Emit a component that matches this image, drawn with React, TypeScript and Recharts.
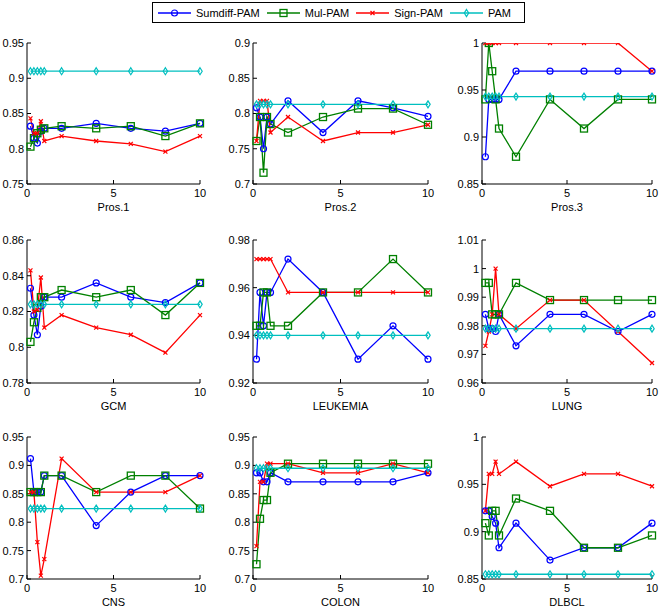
import { LineChart, Line, XAxis, YAxis } from 'recharts';

const xValues = [0.2, 0.4, 0.6, 0.8, 1, 2, 4, 6, 8, 10];
const xTicks = [0, 5, 10];

const datasets = ['Pros.1', 'Pros.2', 'Pros.3', 'GCM', 'LEUKEMIA', 'LUNG', 'CNS', 'COLON', 'DLBCL'];

const yTicks = [
  [0.75, 0.8, 0.85, 0.9, 0.95],
  [0.7, 0.75, 0.8, 0.85, 0.9],
  [0.85, 0.9, 0.95, 1],
  [0.78, 0.8, 0.82, 0.84, 0.86],
  [0.92, 0.94, 0.96, 0.98],
  [0.96, 0.97, 0.98, 0.99, 1, 1.01],
  [0.7, 0.75, 0.8, 0.85, 0.9, 0.95],
  [0.7, 0.75, 0.8, 0.85, 0.9, 0.95],
  [0.85, 0.9, 0.95, 1],
];

// one row per dataset, one value per x
const sumdiffPam = [
  [0.832, 0.815, 0.808, 0.825, 0.829, 0.829, 0.836, 0.829, 0.825, 0.836],
  [0.808, 0.795, 0.75, 0.795, 0.785, 0.818, 0.773, 0.818, 0.808, 0.796],
  [0.879, 0.94, 0.94, 0.94, 0.94, 0.97, 0.97, 0.97, 0.97, 0.97],
  [0.833, 0.818, 0.807, 0.823, 0.828, 0.828, 0.836, 0.828, 0.825, 0.836],
  [0.93, 0.958, 0.944, 0.958, 0.958, 0.972, 0.958, 0.93, 0.944, 0.93],
  [0.984, 0.979, 0.979, 0.978, 0.984, 0.973, 0.984, 0.984, 0.978, 0.984],
  [0.912, 0.853, 0.853, 0.853, 0.882, 0.882, 0.794, 0.853, 0.882, 0.882],
  [0.887, 0.887, 0.871, 0.871, 0.887, 0.871, 0.871, 0.871, 0.871, 0.887],
  [0.922, 0.922, 0.916, 0.909, 0.883, 0.909, 0.87, 0.883, 0.883, 0.909],
];

const mulPam = [
  [0.803, 0.815, 0.822, 0.827, 0.829, 0.832, 0.829, 0.832, 0.818, 0.836],
  [0.761, 0.795, 0.716, 0.795, 0.785, 0.773, 0.795, 0.807, 0.807, 0.784],
  [0.94, 1, 0.97, 0.94, 0.909, 0.879, 0.94, 0.909, 0.94, 0.94],
  [0.803, 0.814, 0.822, 0.828, 0.828, 0.832, 0.828, 0.832, 0.818, 0.836],
  [0.944, 0.944, 0.958, 0.958, 0.944, 0.944, 0.958, 0.958, 0.972, 0.958],
  [0.995, 0.995, 0.984, 0.984, 0.984, 0.995, 0.989, 0.989, 0.989, 0.989],
  [0.853, 0.853, 0.853, 0.853, 0.882, 0.882, 0.853, 0.882, 0.882, 0.824],
  [0.726, 0.806, 0.839, 0.839, 0.887, 0.903, 0.903, 0.903, 0.903, 0.903],
  [0.909, 0.896, 0.922, 0.922, 0.896, 0.935, 0.922, 0.883, 0.883, 0.896],
];

const signPam = [
  [0.843, 0.822, 0.822, 0.839, 0.811, 0.818, 0.811, 0.807, 0.796, 0.818],
  [0.761, 0.818, 0.818, 0.818, 0.773, 0.795, 0.761, 0.773, 0.773, 0.784],
  [1, 1, 1, 1, 1, 1, 1, 1, 1, 0.97],
  [0.843, 0.82, 0.821, 0.839, 0.811, 0.818, 0.811, 0.807, 0.797, 0.818],
  [0.972, 0.972, 0.972, 0.972, 0.972, 0.958, 0.958, 0.958, 0.958, 0.958],
  [0.973, 0.978, 0.984, 1, 0.984, 0.979, 0.989, 0.989, 0.978, 0.967],
  [0.853, 0.853, 0.765, 0.706, 0.735, 0.912, 0.853, 0.853, 0.853, 0.882],
  [0.758, 0.871, 0.871, 0.903, 0.903, 0.903, 0.887, 0.887, 0.903, 0.887],
  [0.922, 0.961, 0.961, 0.974, 0.961, 0.974, 0.948, 0.961, 0.961, 0.948],
];

const pam = [
  [0.91, 0.91, 0.91, 0.91, 0.91, 0.91, 0.91, 0.91, 0.91, 0.91],
  [0.813, 0.813, 0.813, 0.813, 0.813, 0.813, 0.813, 0.813, 0.813, 0.813],
  [0.943, 0.943, 0.943, 0.943, 0.943, 0.943, 0.943, 0.943, 0.943, 0.943],
  [0.824, 0.824, 0.824, 0.824, 0.824, 0.824, 0.824, 0.824, 0.824, 0.824],
  [0.94, 0.94, 0.94, 0.94, 0.94, 0.94, 0.94, 0.94, 0.94, 0.94],
  [0.979, 0.979, 0.979, 0.979, 0.979, 0.979, 0.979, 0.979, 0.979, 0.979],
  [0.824, 0.824, 0.824, 0.824, 0.824, 0.824, 0.824, 0.824, 0.824, 0.824],
  [0.895, 0.895, 0.895, 0.895, 0.895, 0.895, 0.895, 0.895, 0.895, 0.895],
  [0.855, 0.855, 0.855, 0.855, 0.855, 0.855, 0.855, 0.855, 0.855, 0.855],
];

const SERIES = [
  { key: 'sumdiff', name: 'Sumdiff-PAM', color: '#0000ff', marker: 'circle', values: sumdiffPam },
  { key: 'mul', name: 'Mul-PAM', color: '#008000', marker: 'square', values: mulPam },
  { key: 'sign', name: 'Sign-PAM', color: '#ff0000', marker: 'x', values: signPam },
  { key: 'pam', name: 'PAM', color: '#00bfbf', marker: 'diamond', values: pam },
];

// plot-area edges in page pixels
const COLS = [
  { left: 27, right: 200 },
  { left: 253, right: 428 },
  { left: 482, right: 652 },
];
const ROWS = [
  { top: 43, bottom: 184 },
  { top: 240, bottom: 383 },
  { top: 437, bottom: 579 },
];

const FONT = '"Liberation Sans", Arial, sans-serif';
const Y_W = 32;
const X_H = 32;
const PAD = 8;

function Marker({ kind, cx, cy, color }: { kind: string; cx: number; cy: number; color: string }) {
  if (kind === 'circle') {
    return <circle cx={cx} cy={cy} r={3} fill="none" stroke={color} strokeWidth={1.2} />;
  }
  if (kind === 'square') {
    return <rect x={cx - 3.5} y={cy - 3.5} width={7} height={7} fill="none" stroke={color} strokeWidth={1.3} />;
  }
  if (kind === 'x') {
    return (
      <path
        d={`M${cx - 2},${cy - 2}L${cx + 2},${cy + 2}M${cx - 2},${cy + 2}L${cx + 2},${cy - 2}`}
        stroke={color}
        strokeWidth={1.2}
      />
    );
  }
  return (
    <path
      d={`M${cx},${cy - 3.5}L${cx + 2.2},${cy}L${cx},${cy + 3.5}L${cx - 2.2},${cy}Z`}
      fill="none"
      stroke={color}
      strokeWidth={1.2}
    />
  );
}

const makeDot = (kind: string, color: string) => (props: any) => {
  const { cx, cy, index } = props;
  if (cx == null || cy == null) return <g key={index} />;
  return (
    <g key={index}>
      <Marker kind={kind} cx={cx} cy={cy} color={color} />
    </g>
  );
};

function Panel({ i }: { i: number }) {
  const col = COLS[i % 3];
  const row = ROWS[Math.floor(i / 3)];
  const ticks = yTicks[i];
  const domain = [ticks[0], ticks[ticks.length - 1]];
  const data = xValues.map((x, j) => {
    const d: Record<string, number> = { x };
    SERIES.forEach((s) => {
      d[s.key] = s.values[i][j];
    });
    return d;
  });
  const width = col.right - col.left + Y_W + PAD;
  const height = row.bottom - row.top + PAD + X_H;
  const tickStyle = { fill: '#000', fontSize: 11, fontFamily: FONT };

  return (
    <div style={{ position: 'absolute', left: col.left - Y_W, top: row.top - PAD }}>
      <LineChart width={width} height={height} data={data} margin={{ top: PAD, right: PAD, left: 0, bottom: 0 }}>
        <XAxis
          dataKey="x"
          type="number"
          domain={[0, 10]}
          ticks={xTicks}
          interval={0}
          height={X_H}
          tick={tickStyle}
          tickSize={-4}
          tickMargin={9}
          stroke="#000"
          label={{ value: datasets[i], position: 'insideBottom', offset: 5, fill: '#000', fontSize: 11, fontFamily: FONT }}
        />
        <XAxis
          xAxisId="top"
          orientation="top"
          type="number"
          domain={[0, 10]}
          ticks={xTicks}
          interval={0}
          height={0}
          tick={false}
          tickSize={-4}
          stroke="#000"
        />
        <YAxis
          type="number"
          domain={domain}
          ticks={ticks}
          interval={0}
          allowDataOverflow
          width={Y_W}
          tick={tickStyle}
          tickSize={-4}
          tickMargin={7}
          stroke="#000"
        />
        <YAxis
          yAxisId="right"
          orientation="right"
          type="number"
          domain={domain}
          ticks={ticks}
          interval={0}
          allowDataOverflow
          width={0}
          tick={false}
          tickSize={-4}
          stroke="#000"
        />
        {SERIES.map((s) => (
          <Line
            key={s.key}
            dataKey={s.key}
            type="linear"
            stroke={s.color}
            strokeWidth={1.3}
            dot={makeDot(s.marker, s.color)}
            activeDot={false}
            isAnimationActive={false}
          />
        ))}
      </LineChart>
    </div>
  );
}

function Legend() {
  return (
    <div
      style={{
        position: 'absolute',
        left: 152,
        top: 2,
        width: 366,
        height: 19,
        border: '1px solid #000',
        background: '#fff',
        display: 'flex',
        alignItems: 'center',
        paddingLeft: 5,
        boxSizing: 'content-box',
        fontFamily: FONT,
        fontSize: 11,
        color: '#000',
      }}
    >
      {SERIES.map((s) => (
        <div key={s.key} style={{ display: 'flex', alignItems: 'center', marginRight: 7 }}>
          <svg width={33} height={10} style={{ marginRight: 5 }}>
            <line x1={0} y1={5} x2={33} y2={5} stroke={s.color} strokeWidth={1.3} />
            <Marker kind={s.marker} cx={16.5} cy={5} color={s.color} />
          </svg>
          <span style={{ whiteSpace: 'nowrap' }}>{s.name}</span>
        </div>
      ))}
    </div>
  );
}

export default function App() {
  return (
    <div style={{ position: 'absolute', left: 0, top: 0, width: 661, height: 610, background: '#fff' }}>
      {datasets.map((_, i) => (
        <Panel key={i} i={i} />
      ))}
      <Legend />
    </div>
  );
}
